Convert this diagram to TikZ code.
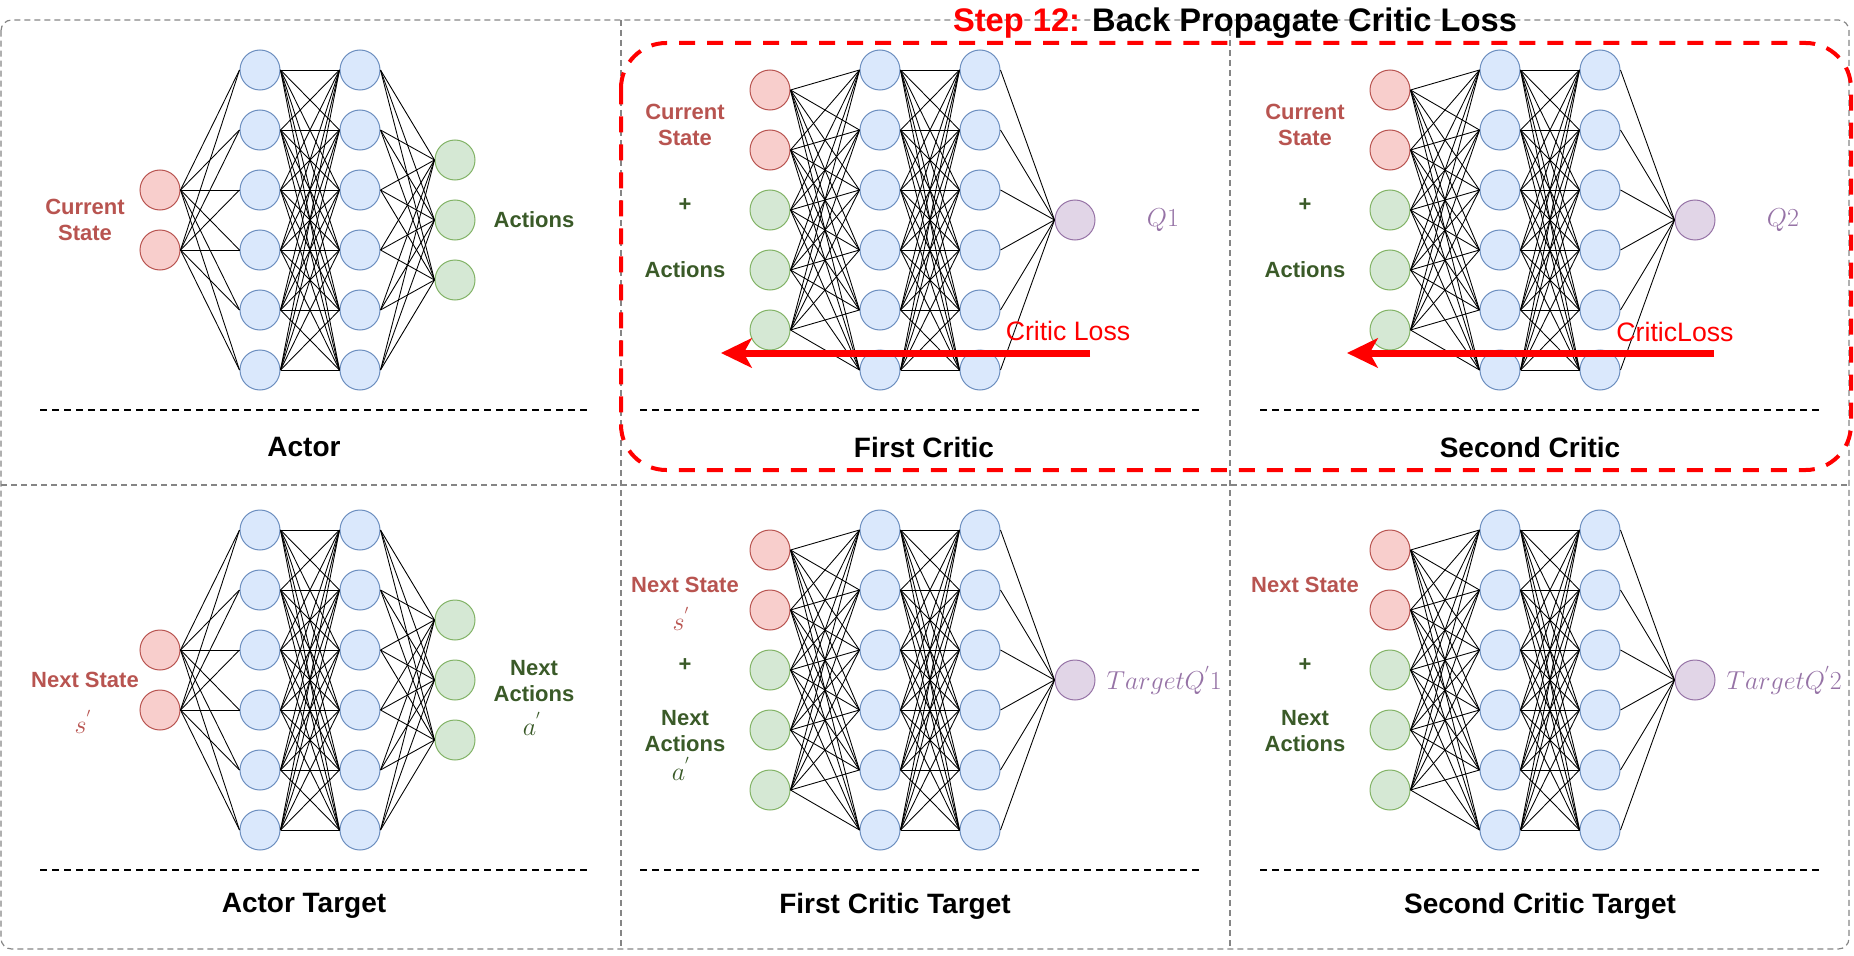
\documentclass[tikz,border=0pt]{standalone}
\usepackage{fix-cm}
\usepackage[no-math]{fontspec}
\newfontfamily\arialfont{Liberation Sans}
\usetikzlibrary{arrows.meta,positioning}
\definecolor{stfill}{HTML}{F8CECC}
\definecolor{stline}{HTML}{B85450}
\definecolor{hidfill}{HTML}{DAE8FC}
\definecolor{hidline}{HTML}{6C8EBF}
\definecolor{acfill}{HTML}{D5E8D4}
\definecolor{acline}{HTML}{82B366}
\definecolor{actxt}{HTML}{3A5A28}
\definecolor{qfill}{HTML}{E1D5E7}
\definecolor{qline}{HTML}{9673A6}
\definecolor{cellgray}{HTML}{858585}
\tikzset{neuron/.style={circle,minimum size=30pt,inner sep=0pt,line width=0.75pt},
  stnode/.style={neuron,draw=stline,fill=stfill},
  hidnode/.style={neuron,draw=hidline,fill=hidfill},
  acnode/.style={neuron,draw=acline,fill=acfill},
  qnode/.style={neuron,draw=qline,fill=qfill},
  link/.style={line width=0.65pt,black},
  cellline/.style={draw=cellgray,line width=0.9pt,dash pattern=on 4.5pt off 3pt},
  divline/.style={line width=1.4pt,dash pattern=on 5pt off 4pt},
  hilite/.style={draw=red,line width=3pt,dash pattern=on 12pt off 9pt,rounded corners=34pt},
  lossarrow/.style={-{Stealth[length=23pt,width=22pt,inset=6pt]},red,line width=5.25pt},
  inlbl/.style={font=\arialfont\bfseries\fontsize{16.5pt}{19.5pt}\selectfont,align=center},
  stlbl/.style={inlbl,text=stline},
  aclbl/.style={inlbl,text=actxt},
  mathlbl/.style={font=\fontsize{19.5pt}{23pt}\selectfont},
  nettitle/.style={font=\arialfont\bfseries\fontsize{21pt}{25pt}\selectfont},
  losslbl/.style={font=\arialfont\fontsize{20pt}{24pt}\selectfont,text=red}}

% two fully linked hidden layers: prefix, x of first column, y of top node
\newcommand{\hiddenpair}[3]{%
  \foreach \k in {1,...,6} {
    \node[hidnode] (#1h\k) at ({#2},{#3+60*(\k-1)}) {};
    \node[hidnode] (#1g\k) at ({#2+100},{#3+60*(\k-1)}) {};
  }
  \foreach \k in {1,...,6} \foreach \m in {1,...,6}
    \draw[link] (#1h\k.east) -- (#1g\m.west);
}
\newcommand{\actornet}[3]{%
  \hiddenpair{#1}{#2}{#3}
  \foreach \k in {1,2} \node[stnode] (#1i\k) at ({#2-100},{#3+60+60*\k}) {};
  \foreach \k in {1,2,3} \node[acnode] (#1o\k) at ({#2+195},{#3+30+60*\k}) {};
  \foreach \k in {1,2} \foreach \m in {1,...,6} \draw[link] (#1i\k.east) -- (#1h\m.west);
  \foreach \k in {1,...,6} \foreach \m in {1,2,3} \draw[link] (#1g\k.east) -- (#1o\m.west);
}
\newcommand{\criticnet}[3]{%
  \hiddenpair{#1}{#2}{#3}
  \foreach \k in {1,2} \node[stnode] (#1i\k) at ({#2-110},{#3-40+60*\k}) {};
  \foreach \k in {3,4,5} \node[acnode] (#1i\k) at ({#2-110},{#3-40+60*\k}) {};
  \node[qnode] (#1o) at ({#2+195},{#3+150}) {};
  \foreach \k in {1,...,5} \foreach \m in {1,...,6} \draw[link] (#1i\k.east) -- (#1h\m.west);
  \foreach \k in {1,...,6} \draw[link] (#1g\k.east) -- (#1o.west);
}

\begin{document}
\begin{tikzpicture}[x=0.75pt,y=-0.75pt]
\useasboundingbox (0,0) rectangle (1854,956);
% cells
\draw[cellline,rounded corners=8pt] (1,20) rectangle (1849,949);
\draw[cellline] (621,20) -- (621,949);
\draw[cellline] (1230,20) -- (1230,949);
\draw[cellline] (1,485) -- (1849,485);

% networks
\actornet{a}{260}{70}
\criticnet{c}{880}{70}
\criticnet{d}{1500}{70}
\actornet{at}{260}{530}
\criticnet{ct}{880}{530}
\criticnet{dt}{1500}{530}

% actor
\node[stlbl] (aS) at (85,220) {Current\\State};
\node[aclbl] (aA) at (534,220) {Actions};
\draw[divline] (40,410) -- (587,410);
\node[nettitle] (aT) at (304,447) {Actor};

% first critic
\node[stlbl] (cS) at (685,125) {Current\\State};
\node[aclbl] (cP) at (685,205) {+};
\node[aclbl] (cA) at (685,270) {Actions};
\node[mathlbl,text=qline] (cQ) at (1163,220) {$Q1$};
\draw[divline] (640,410) -- (1199,410);
\node[nettitle] (cT) at (924,447) {First Critic};

% second critic
\node[stlbl] (dS) at (1305,125) {Current\\State};
\node[aclbl] (dP) at (1305,205) {+};
\node[aclbl] (dA) at (1305,270) {Actions};
\node[mathlbl,text=qline] (dQ) at (1783,220) {$Q2$};
\draw[divline] (1260,410) -- (1819,410);
\node[nettitle] (dT) at (1530,447) {Second Critic};

% actor target
\node[stlbl] (atS) at (85,680) {Next State};
\node[mathlbl,text=stline] (atSm) at (83,722) {$s^{'}$};
\node[aclbl] (atA) at (534,681) {Next\\Actions};
\node[mathlbl,text=actxt] (atAm) at (532,724) {$a^{'}$};
\draw[divline] (40,870) -- (587,870);
\node[nettitle] (atT) at (304,906) {Actor Target};

% first critic target
\node[stlbl] (ctS) at (685,585) {Next State};
\node[mathlbl,text=stline] (ctSm) at (681,619) {$s^{'}$};
\node[aclbl] (ctP) at (685,665) {+};
\node[aclbl] (ctA) at (685,731) {Next\\Actions};
\node[mathlbl,text=actxt] (ctAm) at (681,769) {$a^{'}$};
\node[mathlbl,text=qline,anchor=west] (ctQ) at (1102,680) {$TargetQ^{'}1$};
\draw[divline] (640,870) -- (1199,870);
\node[nettitle] (ctT) at (895,906) {First Critic Target};

% second critic target
\node[stlbl] (dtS) at (1305,585) {Next State};
\node[aclbl] (dtP) at (1305,665) {+};
\node[aclbl] (dtA) at (1305,731) {Next\\Actions};
\node[mathlbl,text=qline,anchor=west] (dtQ) at (1722,680) {$TargetQ^{'}2$};
\draw[divline] (1260,870) -- (1819,870);
\node[nettitle] (dtT) at (1540,906) {Second Critic Target};

% step 12 highlight
\draw[hilite] (621,43) rectangle (1851,470);
\coordinate (cLossR) at (1090,353);
\coordinate (cLossL) at (721,353);
\draw[lossarrow] (cLossR) -- (cLossL);
\node[losslbl] (cLoss) at (1068,331) {Critic Loss};
\coordinate (dLossR) at (1714,353);
\coordinate (dLossL) at (1347,353);
\draw[lossarrow] (dLossR) -- (dLossL);
\node[losslbl] (dLoss) at (1675,332) {CriticLoss};
\node[font=\arialfont\bfseries\fontsize{24.5pt}{29pt}\selectfont] (title) at (1235,23)
  {\textcolor{red}{Step 12:} Back Propagate Critic Loss};
\end{tikzpicture}
\end{document}
